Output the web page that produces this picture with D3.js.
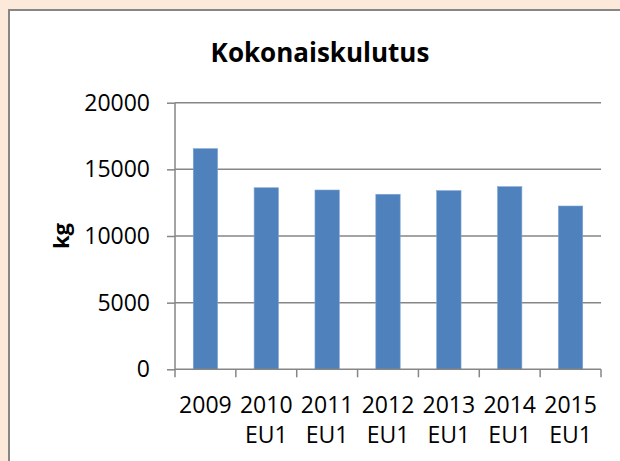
<!DOCTYPE html>
<html>
<head>
<meta charset="utf-8">
<script src="https://cdn.jsdelivr.net/npm/d3@7"></script>
<style>
  body { margin: 0; background: #fde9d9; }
  svg { display: block; }
</style>
</head>
<body>
<div id="chart"></div>
<script>
// data
const years = ["2009", "2010", "2011", "2012", "2013", "2014", "2015"];
const subLabels = ["", "EU1", "EU1", "EU1", "EU1", "EU1", "EU1"];
const totals = [16550, 13620, 13450, 13130, 13400, 13700, 12250];
const yTicks = [0, 5000, 10000, 15000, 20000];

const W = 620, H = 461;
const plot = { left: 175, right: 601, top: 102.7, bottom: 369.3 };
const FONT = "'Open Sans', 'Liberation Sans', sans-serif";
const GRID = "#868686";

let svg = d3.select("#chart").append("svg")
    .attr("width", W)
    .attr("height", H);

// outer peach background + white panel
svg.append("rect")
    .attr("x", 0).attr("y", 0)
    .attr("width", W).attr("height", H)
    .attr("fill", "#fde9d9");

svg.append("rect")
    .attr("x", 9).attr("y", 10)
    .attr("width", W + 20).attr("height", H + 20)
    .attr("fill", "#ffffff")
    .attr("stroke", GRID)
    .attr("stroke-width", 2);

let x = d3.scaleBand()
    .domain(years)
    .range([plot.left, plot.right])
    .padding(0);

let y = d3.scaleLinear()
    .domain([0, 20000])
    .range([plot.bottom, plot.top]);

// grid lines
svg.append("g")
    .selectAll("line")
    .data(yTicks.filter(d => d > 0))
    .join("line")
    .attr("x1", plot.left)
    .attr("x2", plot.right)
    .attr("y1", d => y(d))
    .attr("y2", d => y(d))
    .attr("stroke", GRID)
    .attr("stroke-width", 1.5);

// bars
let barW = x.bandwidth() * 0.4;
svg.append("g")
    .selectAll("rect")
    .data(totals)
    .join("rect")
    .attr("x", (d, i) => x(years[i]) + (x.bandwidth() - barW) / 2)
    .attr("y", d => y(d))
    .attr("width", barW)
    .attr("height", d => plot.bottom - y(d))
    .attr("fill", "#4f81bd")
    .attr("stroke", "#7fa3d1")
    .attr("stroke-width", 0.6);

// y axis
let yAxis = svg.append("g")
    .attr("transform", `translate(${plot.left},0)`)
    .call(d3.axisLeft(y).tickValues(yTicks).tickSize(8).tickPadding(17).tickFormat(d3.format("d")));

yAxis.select(".domain").attr("stroke", GRID).attr("stroke-width", 1.5)
    .attr("d", `M0,${plot.bottom}V${plot.top}`);
yAxis.selectAll(".tick line").attr("stroke", GRID).attr("stroke-width", 1.5);
yAxis.selectAll(".tick text")
    .attr("fill", "#000")
    .style("font-family", FONT)
    .style("font-size", "23px");

// x axis
let xAxis = svg.append("g")
    .attr("transform", `translate(0,${plot.bottom})`)
    .call(d3.axisBottom(x).tickSize(0).tickFormat(""));

xAxis.select(".domain").attr("stroke", GRID).attr("stroke-width", 1.5)
    .attr("d", `M${plot.left},0H${plot.right}`);

// category boundary ticks
svg.append("g")
    .selectAll("line")
    .data(years.concat(["end"]))
    .join("line")
    .attr("x1", (d, i) => i < years.length ? x(d) : plot.right)
    .attr("x2", (d, i) => i < years.length ? x(d) : plot.right)
    .attr("y1", plot.bottom)
    .attr("y2", plot.bottom + 8)
    .attr("stroke", GRID)
    .attr("stroke-width", 1.5);

// category labels (two lines)
let labels = svg.append("g")
    .selectAll("text")
    .data(years)
    .join("text")
    .attr("x", d => x(d) + x.bandwidth() / 2)
    .attr("text-anchor", "middle")
    .attr("fill", "#000")
    .style("font-family", FONT)
    .style("font-size", "23px");

labels.append("tspan")
    .attr("x", d => x(d) + x.bandwidth() / 2)
    .attr("y", 412.5)
    .text(d => d);

labels.append("tspan")
    .attr("x", d => x(d) + x.bandwidth() / 2)
    .attr("y", 443)
    .text((d, i) => subLabels[i]);

// title
svg.append("text")
    .attr("x", 320)
    .attr("y", 61.5)
    .attr("text-anchor", "middle")
    .attr("font-weight", "bold")
    .attr("fill", "#000")
    .style("font-family", FONT)
    .style("font-size", "26px")
    .text("Kokonaiskulutus");

// y axis title
svg.append("text")
    .attr("transform", `translate(69,${(plot.top + plot.bottom) / 2}) rotate(-90)`)
    .attr("text-anchor", "middle")
    .attr("font-weight", "bold")
    .attr("fill", "#000")
    .style("font-family", FONT)
    .style("font-size", "22px")
    .text("kg");
</script>
</body>
</html>
